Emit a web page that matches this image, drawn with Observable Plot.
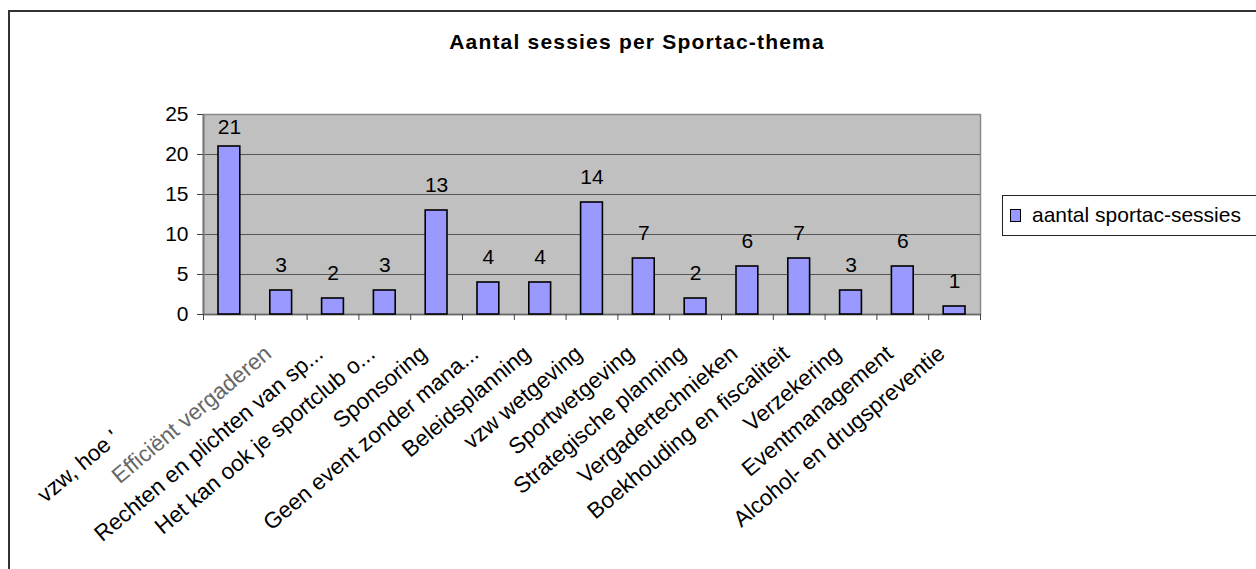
<!DOCTYPE html>
<html>
<head>
<meta charset="utf-8">
<script src="https://cdn.jsdelivr.net/npm/d3@7"></script>
<script src="https://cdn.jsdelivr.net/npm/@observablehq/plot@0.6"></script>
<style>
  html, body { margin: 0; padding: 0; background: #fff; }
  #wrap { position: relative; width: 1256px; height: 569px; overflow: hidden; font-family: "Liberation Sans", Arial, sans-serif; }
  #frame { position: absolute; left: 8px; top: 10px; width: 1400px; height: 700px; border-top: 2px solid #333; border-left: 2px solid #333; pointer-events: none; z-index: 3; }
  #title { position: absolute; left: 0; top: 31px; width: 1274px; text-align: center; font-weight: bold; font-size: 21px; line-height: 21px; letter-spacing: 1.2px; color: #000; z-index: 2; }
  #legend { position: absolute; left: 1002px; top: 195px; width: 320px; height: 39px; border: 1px solid #222; background: #fff; z-index: 2; font-size: 21px; }
  #legend .sw { position: absolute; left: 7px; top: 13px; width: 9px; height: 11px; background: #9999ff; border: 1.5px solid #000; }
  #legend .lb { position: absolute; left: 29px; top: 8px; line-height: 21px; color: #000; }
  #chart { position: absolute; left: 0; top: 0; z-index: 1; }
</style>
</head>
<body>
<div id="wrap">
  <div id="frame"></div>
  <div id="title"></div>
  <div id="legend"><div class="sw"></div><div class="lb"></div></div>
  <div id="chart"></div>
</div>
<script>
const chartTitle = "Aantal sessies per Sportac-thema";
const seriesName = "aantal sportac-sessies";
const themes = [
  "vzw, hoe '\u00A0\u00A0\u00A0\u00A0\u00A0\u00A0\u00A0\u00A0\u00A0\u00A0\u00A0\u00A0\u00A0\u00A0\u00A0\u00A0\u00A0\u00A0\u00A0\u00A0\u00A0",
  "Efficiënt vergaderen",
  "Rechten en plichten van sp...",
  "Het kan ook je sportclub o...",
  "Sponsoring",
  "Geen event zonder mana...",
  "Beleidsplanning",
  "vzw wetgeving",
  "Sportwetgeving",
  "Strategische planning",
  "Vergadertechnieken",
  "Boekhouding en fiscaliteit",
  "Verzekering",
  "Eventmanagement",
  "Alcohol- en drugspreventie"
];
const sessions = [21, 3, 2, 3, 13, 4, 4, 14, 7, 2, 6, 7, 3, 6, 1];
const yTicks = [0, 5, 10, 15, 20, 25];

const data = themes.map((t, i) => ({i, theme: t, value: sessions[i]}));
const n = themes.length;
const boundaries = d3.range(0, n + 1);
const centers = d3.range(n).map(i => i + 0.5);
const fadedCenter = [1.5];
const normalCenters = centers.filter(c => c !== 1.5);

document.getElementById("title").textContent = chartTitle;
document.querySelector("#legend .lb").textContent = seriesName;

const font = "Liberation Sans, Arial, sans-serif";
const labelOpts = {tickSize: 0, tickRotate: -40, tickPadding: 22, dx: -13, dy: 14, fontSize: 22.5, tickFormat: v => themes[Math.floor(v)], label: null};

const plot = Plot.plot({
  width: 1256,
  height: 569,
  marginLeft: 203,
  marginRight: 276,
  marginTop: 114,
  marginBottom: 255,
  style: {fontFamily: font, fontSize: "21px", color: "#000", background: "transparent"},
  x: {type: "linear", domain: [0, n]},
  y: {domain: [0, 25]},
  marks: [
    Plot.frame({fill: "#c0c0c0", stroke: "#8a8a8a", strokeWidth: 1.5}),
    Plot.ruleY(yTicks.filter(v => v > 0 && v < 25), {y: d => d, stroke: "#555", strokeWidth: 1.2}),
    Plot.ruleY([0], {stroke: "#666", strokeWidth: 1.5}),
    Plot.ruleX([0], {stroke: "#7a7a7a", strokeWidth: 2}),
    Plot.rectY(data, {x1: d => d.i, x2: d => d.i + 1, y: "value", fill: "#9999ff", stroke: "#000", strokeWidth: 1.6, insetLeft: 15, insetRight: 15}),
    Plot.text(data, {x: d => d.i + 0.5, y: d => Math.min(d.value, 20.25), text: d => String(d.value), lineAnchor: "bottom", dy: -19, fontSize: 21, fill: "#000"}),
    Plot.axisY({ticks: yTicks, tickSize: 6, tickPadding: 9, fontSize: 21, stroke: "#444", label: null}),
    Plot.axisX({ticks: boundaries, tickSize: 6, tickFormat: () => "", stroke: "#444", label: null}),
    Plot.axisX({...labelOpts, ticks: normalCenters, fill: "#000"}),
    Plot.axisX({...labelOpts, ticks: fadedCenter, fill: "#666"})
  ]
});
document.getElementById("chart").appendChild(plot);
</script>
</body>
</html>
